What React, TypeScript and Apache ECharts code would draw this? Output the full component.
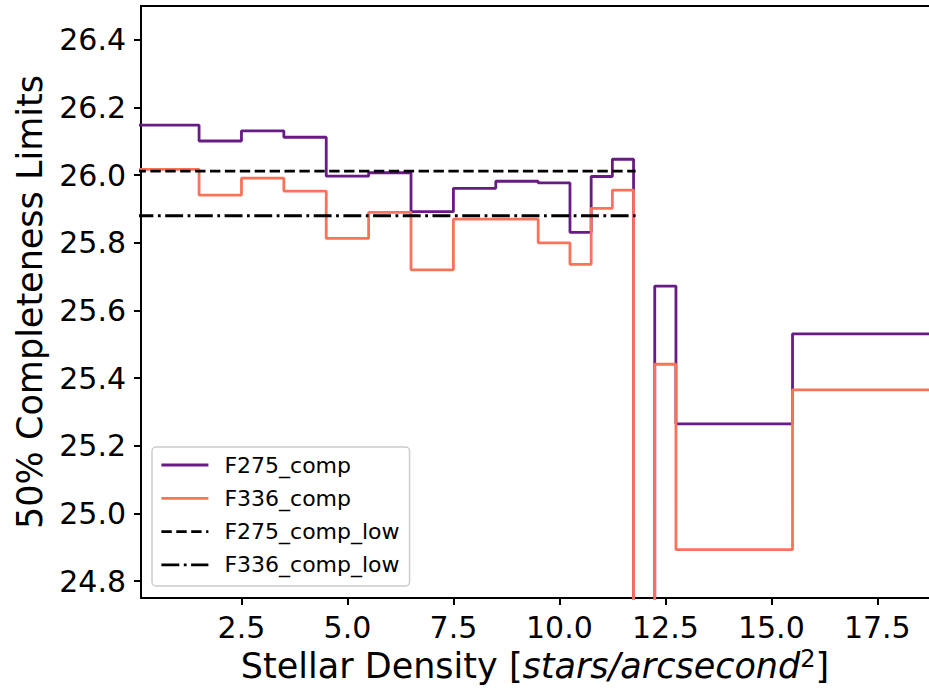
import React, { useEffect, useRef } from "react";
import * as echarts from "echarts";

// Stellar density bin centres (steps drawn at mid-points)
const densityX = [0, 1, 2, 3, 4, 5, 6, 7, 8, 9, 10, 10.5, 11, 11.5, 12, 12.5, 13, 18, 19];
const f275Comp = [26.148, 26.148, 26.101, 26.131, 26.112, 25.997, 26.007, 25.892, 25.961, 25.982, 25.977, 25.831, 25.996, 26.047, 24.0, 25.672, 25.265, 25.531, 25.531];
const f336Comp = [26.017, 26.017, 25.941, 25.991, 25.953, 25.813, 25.890, 25.720, 25.870, 25.870, 25.800, 25.736, 25.902, 25.956, 24.0, 25.441, 24.893, 25.365, 25.365];
const lowX = [0, 11.8];
const f275Low = 26.012;
const f336Low = 25.88;
const xTicks = [2.5, 5.0, 7.5, 10.0, 12.5, 15.0, 17.5];
const yTicks = [24.8, 25.0, 25.2, 25.4, 25.6, 25.8, 26.0, 26.2, 26.4];
const seriesNames = ["F275_comp", "F336_comp", "F275_comp_low", "F336_comp_low"];

const FONT = "DejaVu Sans";
const PURPLE = "#681a85";
const ORANGE = "#f9735b";
const LW = 2.8;
const DASHED = [10.4, 4.5];
const DASHDOT = [17.9, 4.5, 2.8, 4.5];

export default function App() {
  const ref = useRef<HTMLDivElement>(null);
  useEffect(() => {
    if (!ref.current) return;
    const chart = echarts.init(ref.current, undefined, { renderer: "svg" });
    const xMin = 0.13;
    const xMax = 18.72;
    const axisLine = { show: true, onZero: false, lineStyle: { color: "#000", width: 2 } };
    chart.setOption({
      animation: false,
      backgroundColor: "#fff",
      textStyle: { fontFamily: FONT },
      grid: { left: 141, top: 6, right: 0, bottom: 96, containLabel: false },
      xAxis: [
        {
          type: "value",
          min: xMin,
          max: xMax,
          position: "bottom",
          axisLine,
          axisTick: { show: true, length: 7, lineStyle: { color: "#000", width: 2 }, customValues: xTicks },
          axisLabel: {
            show: true,
            customValues: xTicks,
            formatter: (v: number) => v.toFixed(1),
            fontSize: 30,
            fontFamily: FONT,
            color: "#000",
            margin: 14,
          },
          splitLine: { show: false },
          name: "Stellar Density [{i|stars/arcsecond}{s|2}]",
          nameLocation: "middle",
          nameGap: 48,
          nameTextStyle: {
            fontSize: 35,
            fontFamily: FONT,
            color: "#000",
            rich: {
              i: { fontSize: 35, fontStyle: "italic", fontFamily: FONT, color: "#000" },
              s: { fontSize: 24, fontFamily: FONT, color: "#000", verticalAlign: "top", padding: [0, 0, 14, 0] },
            },
          },
        },
        {
          type: "value",
          min: xMin,
          max: xMax,
          position: "top",
          axisLine,
          axisTick: { show: false },
          axisLabel: { show: false },
          splitLine: { show: false },
        },
      ],
      yAxis: {
        type: "value",
        min: 24.75,
        max: 26.5,
        axisLine,
        axisTick: { show: true, length: 7, lineStyle: { color: "#000", width: 2 }, customValues: yTicks },
        axisLabel: {
          show: true,
          customValues: yTicks,
          formatter: (v: number) => v.toFixed(1),
          fontSize: 30,
          fontFamily: FONT,
          color: "#000",
          margin: 15,
        },
        splitLine: { show: false },
        name: "50% Completeness Limits",
        nameLocation: "middle",
        nameRotate: 90,
        nameGap: 94,
        nameTextStyle: { fontSize: 35, fontFamily: FONT, color: "#000" },
      },
      legend: {
        show: true,
        orient: "vertical",
        left: 152,
        top: 447,
        padding: [5, 10, 8, 8],
        itemWidth: 47,
        itemHeight: 14,
        itemGap: 7.3,
        backgroundColor: "rgba(255,255,255,0.8)",
        borderColor: "#cccccc",
        borderWidth: 1.5,
        borderRadius: 4,
        itemStyle: { opacity: 0 },
        lineStyle: { width: LW },
        textStyle: { fontSize: 22, fontFamily: FONT, color: "#000", lineHeight: 26, padding: [0, 0, 0, 11] },
        data: [
          { name: seriesNames[0], lineStyle: { color: PURPLE, width: LW, type: "solid" } },
          { name: seriesNames[1], lineStyle: { color: ORANGE, width: LW, type: "solid" } },
          { name: seriesNames[2], lineStyle: { color: "#000", width: LW, type: DASHED } },
          { name: seriesNames[3], lineStyle: { color: "#000", width: LW, type: DASHDOT } },
        ],
      },
      series: [
        {
          name: seriesNames[0],
          type: "line",
          step: "middle",
          symbol: "none",
          data: densityX.map((x, i) => [x, f275Comp[i]]),
          lineStyle: { color: PURPLE, width: LW },
          itemStyle: { color: PURPLE },
          clip: true,
        },
        {
          name: seriesNames[1],
          type: "line",
          step: "middle",
          symbol: "none",
          data: densityX.map((x, i) => [x, f336Comp[i]]),
          lineStyle: { color: ORANGE, width: LW },
          itemStyle: { color: ORANGE },
          clip: true,
        },
        {
          name: seriesNames[2],
          type: "line",
          symbol: "none",
          data: lowX.map((x) => [x, f275Low]),
          lineStyle: { color: "#000", width: LW, type: DASHED },
          itemStyle: { color: "#000" },
          clip: true,
        },
        {
          name: seriesNames[3],
          type: "line",
          symbol: "none",
          data: lowX.map((x) => [x, f336Low]),
          lineStyle: { color: "#000", width: LW, type: DASHDOT },
          itemStyle: { color: "#000" },
          clip: true,
        },
      ],
    });
    return () => chart.dispose();
  }, []);
  return (
    <div
      ref={ref}
      style={{ position: "fixed", left: 0, top: 0, width: 929, height: 694, background: "#fff" }}
    />
  );
}
